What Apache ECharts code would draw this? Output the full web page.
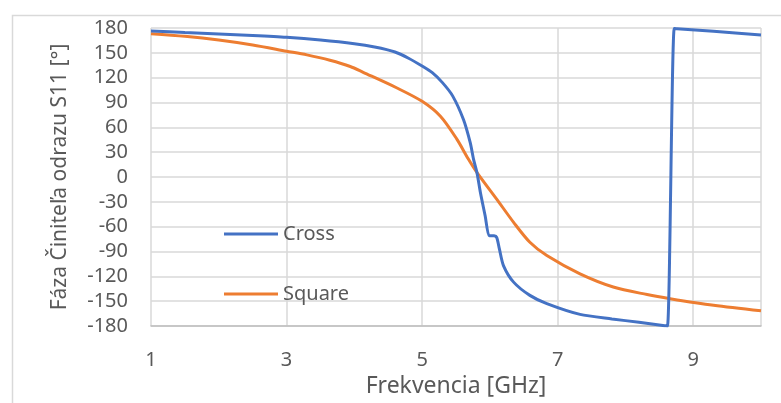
<!DOCTYPE html>
<html>
<head>
<meta charset="utf-8">
<script src="https://cdn.jsdelivr.net/npm/echarts@6/dist/echarts.min.js"></script>
<style>
html,body{margin:0;padding:0;background:#fff;}
#c{width:781px;height:403px;}
</style>
</head>
<body>
<div id="c"></div>
<script>
// Data
const crossX = [1, 1.5, 2, 2.5, 3, 3.5, 4.0, 4.3, 4.6, 4.8, 5.0, 5.15, 5.3, 5.45, 5.61, 5.71, 5.76, 5.81, 5.86, 5.93, 5.99, 6.06, 6.1, 6.14, 6.2, 6.35, 6.59, 6.84, 7.33, 7.8, 8.2, 8.58, 8.62, 8.72, 8.76, 9.3, 10];
const crossY = [176.5, 174.6, 172.8, 171, 168.8, 165.5, 161, 157, 151, 143.5, 134, 126, 114, 98, 69.4, 41.4, 21, 5, -18.7, -46.8, -70.8, -71, -73, -86.8, -107, -127, -143, -153, -166, -171.5, -175.5, -179.6, -180, 179.5, 179.2, 176, 171.6];
const squareX = [1, 1.5, 2, 2.5, 3, 3.3, 3.64, 3.94, 4.13, 4.63, 5.0, 5.27, 5.51, 5.68, 5.81, 6.1, 6.35, 6.59, 6.84, 7.33, 7.82, 8.32, 8.66, 9.3, 10];
const squareY = [173.2, 170, 165.5, 159.5, 152, 147.5, 141, 133.5, 126.5, 107.5, 91.4, 73.4, 46, 22, 5.3, -26.7, -54.8, -78.8, -94.9, -117, -132.9, -142, -147, -155, -161.7];
const seriesNames = ['Cross', 'Square'];
const xTitle = 'Frekvencia [GHz]';
const yTitle = 'Fáza Činiteľa odrazu S11 [°]';

const zip = (xs, ys) => xs.map((x, i) => [x, ys[i]]);
const FONT = 'Noto Sans';
const TXT = '#595959';

const chart = echarts.init(document.getElementById('c'), null, {renderer: 'canvas'});
chart.setOption({
  animation: false,
  backgroundColor: '#fff',
  graphic: [{
    type: 'rect', left: 10, top: 13, silent: true,
    shape: {x: 0, y: 0, width: 800, height: 420},
    style: {fill: 'none', stroke: '#d9d9d9', lineWidth: 1.5}
  }],
  grid: {left: 151, right: 20, top: 28, bottom: 75.5, containLabel: false},
  legend: {
    orient: 'vertical', left: 224, top: 224, padding: 0, itemGap: 40,
    itemWidth: 54, itemHeight: 3, icon: 'rect',
    textStyle: {fontFamily: FONT, fontSize: 20, color: TXT, lineHeight: 20},
    data: seriesNames
  },
  xAxis: {
    type: 'value', min: 1, max: 10, interval: 2,
    name: xTitle, nameLocation: 'middle', nameGap: 49,
    nameTextStyle: {fontFamily: FONT, fontSize: 23, color: TXT},
    axisLine: {show: true, onZero: false, lineStyle: {color: '#bfbfbf', width: 1.5}},
    axisTick: {show: false},
    axisLabel: {fontFamily: FONT, fontSize: 20, color: TXT, margin: 24, showMaxLabel: false},
    splitLine: {show: true, lineStyle: {color: '#d9d9d9', width: 1.5}}
  },
  yAxis: {
    type: 'value', min: -180, max: 180, interval: 30,
    name: yTitle, nameLocation: 'middle', nameGap: 80, nameRotate: 90,
    nameTextStyle: {fontFamily: FONT, fontSize: 21, color: TXT},
    axisLine: {show: false},
    axisTick: {show: false},
    axisLabel: {fontFamily: FONT, fontSize: 20, color: TXT, margin: 23},
    splitLine: {show: true, lineStyle: {color: '#d9d9d9', width: 1.5}}
  },
  series: [
    {name: seriesNames[0], type: 'line', data: zip(crossX, crossY), showSymbol: false, symbol: 'none',
     smooth: 0.25, lineStyle: {color: '#4472C4', width: 3}, itemStyle: {color: '#4472C4'}, z: 3},
    {name: seriesNames[1], type: 'line', data: zip(squareX, squareY), showSymbol: false, symbol: 'none',
     smooth: 0.3, lineStyle: {color: '#ED7D31', width: 3}, itemStyle: {color: '#ED7D31'}, z: 2}
  ]
});
</script>
</body>
</html>
